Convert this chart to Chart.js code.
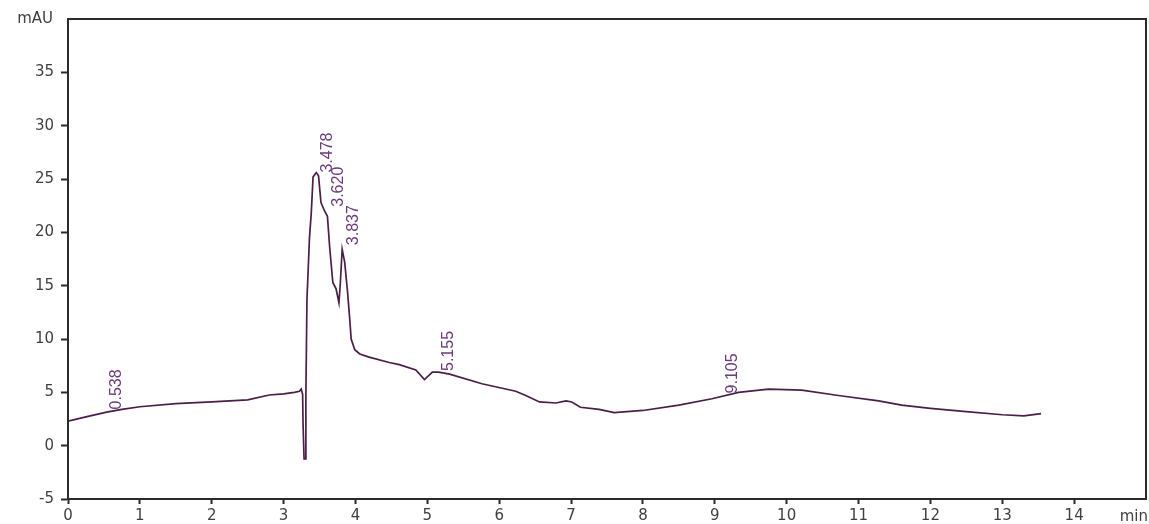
<!DOCTYPE html>
<html>
<head>
<meta charset="utf-8">
<script src="https://cdn.jsdelivr.net/npm/chart.js@4/dist/chart.umd.min.js"></script>
<style>
  html, body { margin: 0; padding: 0; background: #fff; }
  canvas { display: block; }
</style>
</head>
<body>
<canvas id="chrom" width="1149" height="524"></canvas>
<script>
// retention time (min) and detector signal (mAU)
let TIMES = [0.00, 0.25, 0.538, 0.75, 1.00, 1.5, 2.0, 2.5, 2.8, 3.0, 3.15, 3.22, 3.245, 3.265,
  3.27, 3.285, 3.30, 3.31, 3.325, 3.36, 3.385, 3.41, 3.455, 3.486, 3.52, 3.57, 3.61, 3.64,
  3.685, 3.73, 3.77, 3.79, 3.815, 3.85, 3.89, 3.92, 3.94, 3.99, 4.06, 4.19, 4.47, 4.61,
  4.84, 4.96, 5.07, 5.155, 5.31, 5.76, 6.23, 6.37, 6.56, 6.79, 6.93, 7.01, 7.13, 7.39,
  7.6, 8.0, 8.5, 8.96, 9.33, 9.75, 10.21, 10.72, 11.28, 11.6, 12.0, 12.5, 13.0, 13.3, 13.54];
let SIGNAL = [2.3, 2.7, 3.15, 3.4, 3.65, 3.95, 4.1, 4.3, 4.75, 4.85, 5.0, 5.1, 5.3, 4.8,
  2.2, -1.25, -1.25, 4.7, 13.7, 19.5, 21.8, 25.2, 25.6, 25.3, 22.8, 22.0, 21.5, 18.7,
  15.3, 14.7, 13.4, 15.3, 18.4, 17.2, 14.4, 11.9, 10.0, 9.0, 8.6, 8.3, 7.8, 7.6,
  7.1, 6.2, 6.9, 6.9, 6.7, 5.8, 5.1, 4.7, 4.1, 4.0, 4.2, 4.1, 3.6, 3.4,
  3.1, 3.3, 3.8, 4.4, 5.0, 5.3, 5.2, 4.7, 4.2, 3.8, 3.5, 3.2, 2.9, 2.8, 3.0];

// peak annotations
let PEAK_TIMES = [0.538, 3.478, 3.620, 3.837, 5.155, 9.105];
let PEAK_LABELS = ['0.538', '3.478', '3.620', '3.837', '5.155', '9.105'];
let PEAK_HEIGHTS = [3.4, 25.6, 22.4, 18.8, 7.0, 4.9];

let X_TICKS = [0, 1, 2, 3, 4, 5, 6, 7, 8, 9, 10, 11, 12, 13, 14];
let Y_TICKS = [-5, 0, 5, 10, 15, 20, 25, 30, 35];

let LINE = '#4a1f47';
let LABEL = '#6b3a7c';
let AXIS = '#2b2b2b';
let TEXT = '#3f3f3f';

var points = TIMES.map(function (t, i) { return { x: t, y: SIGNAL[i] }; });

var frame = {
  id: 'frame',
  afterDraw: function (chart) {
    var c = chart.ctx, a = chart.chartArea;
    var xs = chart.scales.x, ys = chart.scales.y;
    c.save();
    c.strokeStyle = AXIS;
    c.lineWidth = 2;
    c.strokeRect(a.left, a.top, a.right - a.left, a.bottom - a.top);

    // axis units
    c.fillStyle = TEXT;
    c.font = '15px "DejaVu Sans"';
    c.textAlign = 'right';
    c.textBaseline = 'middle';
    c.fillText('mAU', 53, a.top);
    c.fillText('min', 1148, 517);

    // peak retention times, rotated
    c.fillStyle = LABEL;
    c.font = '16px "Liberation Sans", Arial';
    c.textAlign = 'left';
    c.textBaseline = 'middle';
    PEAK_TIMES.forEach(function (t, i) {
      var px = xs.getPixelForValue(t) + 10;
      var py = ys.getPixelForValue(PEAK_HEIGHTS[i]);
      c.save();
      c.translate(px, py);
      c.rotate(-Math.PI / 2);
      c.fillText(PEAK_LABELS[i], 0, 0);
      c.restore();
    });
    c.restore();
  }
};

var ctx = document.getElementById('chrom').getContext('2d');
var chrom = new Chart(ctx, {
  type: 'line',
  data: {
    datasets: [{
      data: points,
      borderColor: LINE,
      borderWidth: 1.7,
      pointRadius: 0,
      tension: 0,
      fill: false
    }]
  },
  options: {
    responsive: false,
    animation: false,
    layout: { padding: { top: 19, right: 3, left: 0, bottom: 0 } },
    plugins: { legend: { display: false }, tooltip: { enabled: false } },
    scales: {
      x: {
        type: 'linear',
        min: 0,
        max: 15,
        afterBuildTicks: function (s) { s.ticks = X_TICKS.map(function (v) { return { value: v }; }); },
        afterFit: function (s) { s.height = 25; },
        ticks: {
          autoSkip: false,
          maxRotation: 0,
          padding: 3,
          color: TEXT,
          font: { family: 'DejaVu Sans', size: 15 }
        },
        grid: { drawOnChartArea: false, tickLength: 5, color: AXIS, tickWidth: 2 },
        border: { color: AXIS, width: 2 }
      },
      y: {
        min: -5,
        max: 40,
        afterBuildTicks: function (s) { s.ticks = Y_TICKS.map(function (v) { return { value: v }; }); },
        afterFit: function (s) { s.width = 68; },
        ticks: {
          padding: 7,
          color: TEXT,
          font: { family: 'DejaVu Sans', size: 15 }
        },
        grid: { drawOnChartArea: false, tickLength: 7, color: AXIS, tickWidth: 2 },
        border: { color: AXIS, width: 2 }
      }
    }
  },
  plugins: [frame]
});
</script>
</body>
</html>
